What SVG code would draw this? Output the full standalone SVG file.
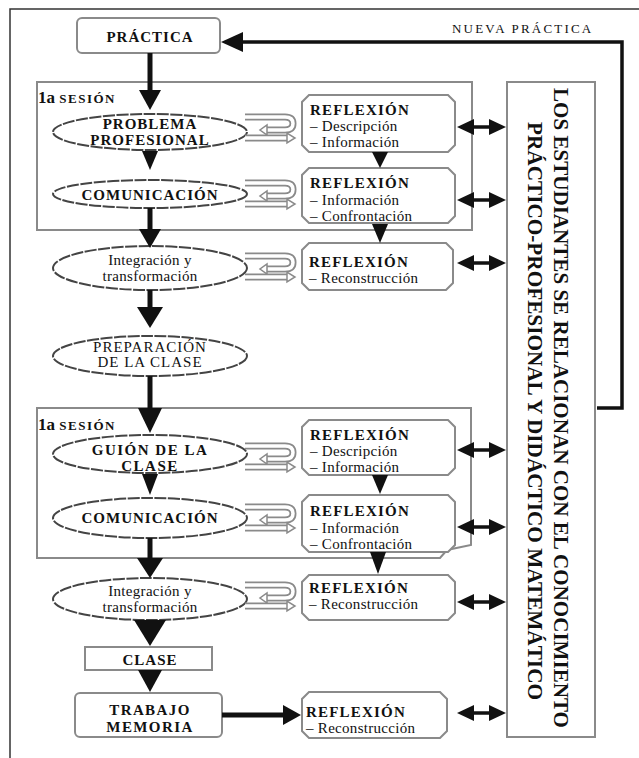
<svg xmlns="http://www.w3.org/2000/svg" width="639" height="758" viewBox="0 0 639 758">
<style>
text{font-family:"Liberation Serif","Times New Roman",serif;fill:#111}
.b{font-weight:bold;font-size:15px;letter-spacing:1px}
.n{font-size:15px;letter-spacing:0.3px}
.c{text-anchor:middle}
.ell{fill:#fff;stroke:#444;stroke-width:2;stroke-dasharray:12 1.5}
.box{fill:#fff;stroke:#8a8a8a;stroke-width:2}
.ses{fill:none;stroke:#8a8a8a;stroke-width:2}
.ar{fill:#111}
.ln{stroke:#111;fill:none}
.ses-t{font-weight:bold;font-size:13px;letter-spacing:1.5px}
.one{font-weight:bold;font-size:17px;letter-spacing:0}
.ref{font-weight:bold;font-size:15px;letter-spacing:1.2px}
.vt{font-weight:bold;font-size:22px;text-anchor:middle}
</style>
<defs>
<g id="icon">
<path d="M0 4H40Q48 4 48 10.5Q48 17 40 17H22" fill="none" stroke="#8a8a8a" stroke-width="7"/>
<path d="M0 4H40Q48 4 48 10.5Q48 17 40 17H22" fill="none" stroke="#fff" stroke-width="3.5"/>
<polygon points="22,12 22,22 15,17" fill="#fff" stroke="#8a8a8a" stroke-width="1.5"/>
<path d="M0 25H42" fill="none" stroke="#8a8a8a" stroke-width="7"/>
<path d="M0 25H43" fill="none" stroke="#fff" stroke-width="3.5"/>
<polygon points="42,20 42,30 50,25" fill="#fff" stroke="#8a8a8a" stroke-width="1.5"/>
</g>
<g id="dbl">
<line x1="470" y1="0" x2="492" y2="0" stroke="#111" stroke-width="3.5"/>
<polygon points="457,0 474,-8 474,8" fill="#111"/>
<polygon points="506,0 489,-8 489,8" fill="#111"/>
</g>
</defs>

<g id="frame">
<path d="M10 758V9H639" fill="none" stroke="#333" stroke-width="1.5"/>
</g>

<g id="sesion1">
<rect class="ses" x="37" y="82" width="435" height="148"/>
<text x="38" y="103"><tspan class="one">1a </tspan><tspan class="ses-t">SESIÓN</tspan></text>
</g>
<g id="sesion2">
<path class="ses" d="M37 408H471V545L447 550L440 558H37Z"/>
<text x="38" y="430"><tspan class="one">1a </tspan><tspan class="ses-t">SESIÓN</tspan></text>
</g>

<g id="practica">
<rect class="box" x="77" y="18" width="143" height="35" rx="5"/>
<text class="b c" x="150" y="42">PRÁCTICA</text>
</g>

<g id="problema">
<ellipse class="ell" cx="150" cy="132" rx="97" ry="18"/>
<text class="b c" x="150" y="129">PROBLEMA</text>
<text class="b c" x="150" y="145">PROFESIONAL</text>
</g>
<g id="comunicacion1">
<ellipse class="ell" cx="150" cy="194" rx="97" ry="14"/>
<text class="b c" x="150" y="200">COMUNICACIÓN</text>
</g>
<g id="integracion1">
<ellipse class="ell" cx="150" cy="268" rx="97" ry="22"/>
<text class="n c" x="150" y="265">Integración y</text>
<text class="n c" x="150" y="281">transformación</text>
</g>
<g id="preparacion">
<ellipse class="ell" cx="150" cy="356" rx="97" ry="20"/>
<text class="c" x="150" y="352" style="font-size:15px;letter-spacing:1px">PREPARACIÓN</text>
<text class="c" x="150" y="367" style="font-size:15px;letter-spacing:1px">DE LA CLASE</text>
</g>
<g id="guion">
<ellipse class="ell" cx="150" cy="454" rx="97" ry="19"/>
<text class="b c" x="150" y="455" style="letter-spacing:1.5px">GUIÓN DE LA</text>
<text class="b c" x="150" y="471" style="letter-spacing:1.5px">CLASE</text>
</g>
<g id="comunicacion2">
<ellipse class="ell" cx="150" cy="518" rx="97" ry="20"/>
<text class="b c" x="150" y="523">COMUNICACIÓN</text>
</g>
<g id="integracion2">
<ellipse class="ell" cx="150" cy="599" rx="97" ry="21"/>
<text class="n c" x="150" y="596">Integración y</text>
<text class="n c" x="150" y="612">transformación</text>
</g>
<g id="clase">
<rect class="box" x="85" y="647" width="127" height="23"/>
<text class="b c" x="150" y="665">CLASE</text>
</g>
<g id="trabajo">
<rect class="box" x="75" y="693" width="147" height="44" rx="5"/>
<text class="b c" x="150" y="715" style="letter-spacing:1.4px">TRABAJO</text>
<text class="b c" x="150" y="732" style="letter-spacing:1.4px">MEMORIA</text>
</g>

<g id="reflexion1">
<polygon class="box" points="309,95 448,95 455,102 455,145 448,152 309,152 302,145 302,102"/>
<text class="ref" x="310" y="115">REFLEXIÓN</text>
<text class="n" x="310" y="131">– Descripción</text>
<text class="n" x="310" y="147">– Información</text>
</g>
<g id="reflexion2">
<polygon class="box" points="309,168 448,168 455,175 455,216 448,223 309,223 302,216 302,175"/>
<text class="ref" x="310" y="188">REFLEXIÓN</text>
<text class="n" x="310" y="205">– Información</text>
<text class="n" x="310" y="221">– Confrontación</text>
</g>
<g id="reflexion3">
<polygon class="box" points="309,243 446,243 453,250 453,283 446,290 309,290 302,283 302,250"/>
<text class="ref" x="309" y="267">REFLEXIÓN</text>
<text class="n" x="309" y="283">– Reconstrucción</text>
</g>
<g id="reflexion4">
<polygon class="box" points="309,420 448,420 455,427 455,468 448,475 309,475 302,468 302,427"/>
<text class="ref" x="310" y="440">REFLEXIÓN</text>
<text class="n" x="310" y="456">– Descripción</text>
<text class="n" x="310" y="472">– Información</text>
</g>
<g id="reflexion5">
<polygon class="box" points="309,495 448,495 455,502 455,545 448,552 309,552 302,545 302,502"/>
<text class="ref" x="310" y="516">REFLEXIÓN</text>
<text class="n" x="310" y="533">– Información</text>
<text class="n" x="310" y="549">– Confrontación</text>
</g>
<g id="reflexion6">
<polygon class="box" points="309,575 448,575 455,582 455,613 448,620 309,620 302,613 302,582"/>
<text class="ref" x="309" y="593">REFLEXIÓN</text>
<text class="n" x="309" y="609">– Reconstrucción</text>
</g>
<g id="reflexion7">
<polygon class="box" points="309,692 440,692 447,699 447,731 440,738 309,738 302,731 302,699"/>
<text class="ref" x="306" y="717">REFLEXIÓN</text>
<text class="n" x="306" y="733">– Reconstrucción</text>
</g>

<g id="estudiantes">
<rect class="box" x="507" y="82" width="88" height="655"/>
<text class="vt" transform="translate(554,408) rotate(90)" textLength="640" lengthAdjust="spacingAndGlyphs">LOS ESTUDIANTES SE RELACIONAN CON EL CONOCIMIENTO</text>
<text class="vt" transform="translate(528,411) rotate(90)" textLength="578" lengthAdjust="spacingAndGlyphs">PRÁCTICO-PROFESIONAL Y DIDÁCTICO MATEMÁTICO</text>
</g>

<g id="icons">
<use href="#icon" x="245" y="113"/>
<use href="#icon" x="245" y="179"/>
<use href="#icon" x="245" y="252"/>
<use href="#icon" x="245" y="442"/>
<use href="#icon" x="245" y="503"/>
<use href="#icon" x="245" y="581"/>
</g>

<g id="connectors">
<path class="ln" d="M597 408H622V42H240" stroke-width="3.5"/>
<polygon class="ar" points="243,32 243,52 221,42"/>
<text x="452" y="33" style="font-size:13px;letter-spacing:2.2px">NUEVA PRÁCTICA</text>

<line class="ln" x1="150" y1="53" x2="150" y2="92" stroke-width="5"/>
<polygon class="ar" points="139,90 161,90 150,110"/>
<polygon class="ar" points="142,151 158,151 150,170"/>
<line class="ln" x1="150" y1="208" x2="150" y2="231" stroke-width="5"/>
<polygon class="ar" points="139,229 161,229 150,248"/>
<line class="ln" x1="150" y1="290" x2="150" y2="309" stroke-width="5"/>
<polygon class="ar" points="137,307 163,307 150,328"/>
<line class="ln" x1="150" y1="376" x2="150" y2="410" stroke-width="5"/>
<polygon class="ar" points="138,408 162,408 150,433"/>
<polygon class="ar" points="142,474 158,474 150,495"/>
<line class="ln" x1="150" y1="538" x2="150" y2="560" stroke-width="5"/>
<polygon class="ar" points="137,558 163,558 150,578"/>
<polygon class="ar" points="134,620 166,620 150,646"/>
<polygon class="ar" points="138,670 162,670 150,692"/>
<line class="ln" x1="222" y1="715" x2="286" y2="715" stroke-width="5"/>
<polygon class="ar" points="283,705 283,725 301,715"/>

<polygon class="ar" points="372,152 388,152 380,168"/>
<polygon class="ar" points="372,224 388,224 380,243"/>
<polygon class="ar" points="372,475 388,475 380,494"/>
<polygon class="ar" points="370,552 386,552 378,574"/>

<use href="#dbl" y="127"/>
<use href="#dbl" y="200"/>
<use href="#dbl" y="263"/>
<use href="#dbl" y="450"/>
<use href="#dbl" y="527"/>
<use href="#dbl" y="602"/>
<use href="#dbl" y="713"/>
</g>
</svg>
